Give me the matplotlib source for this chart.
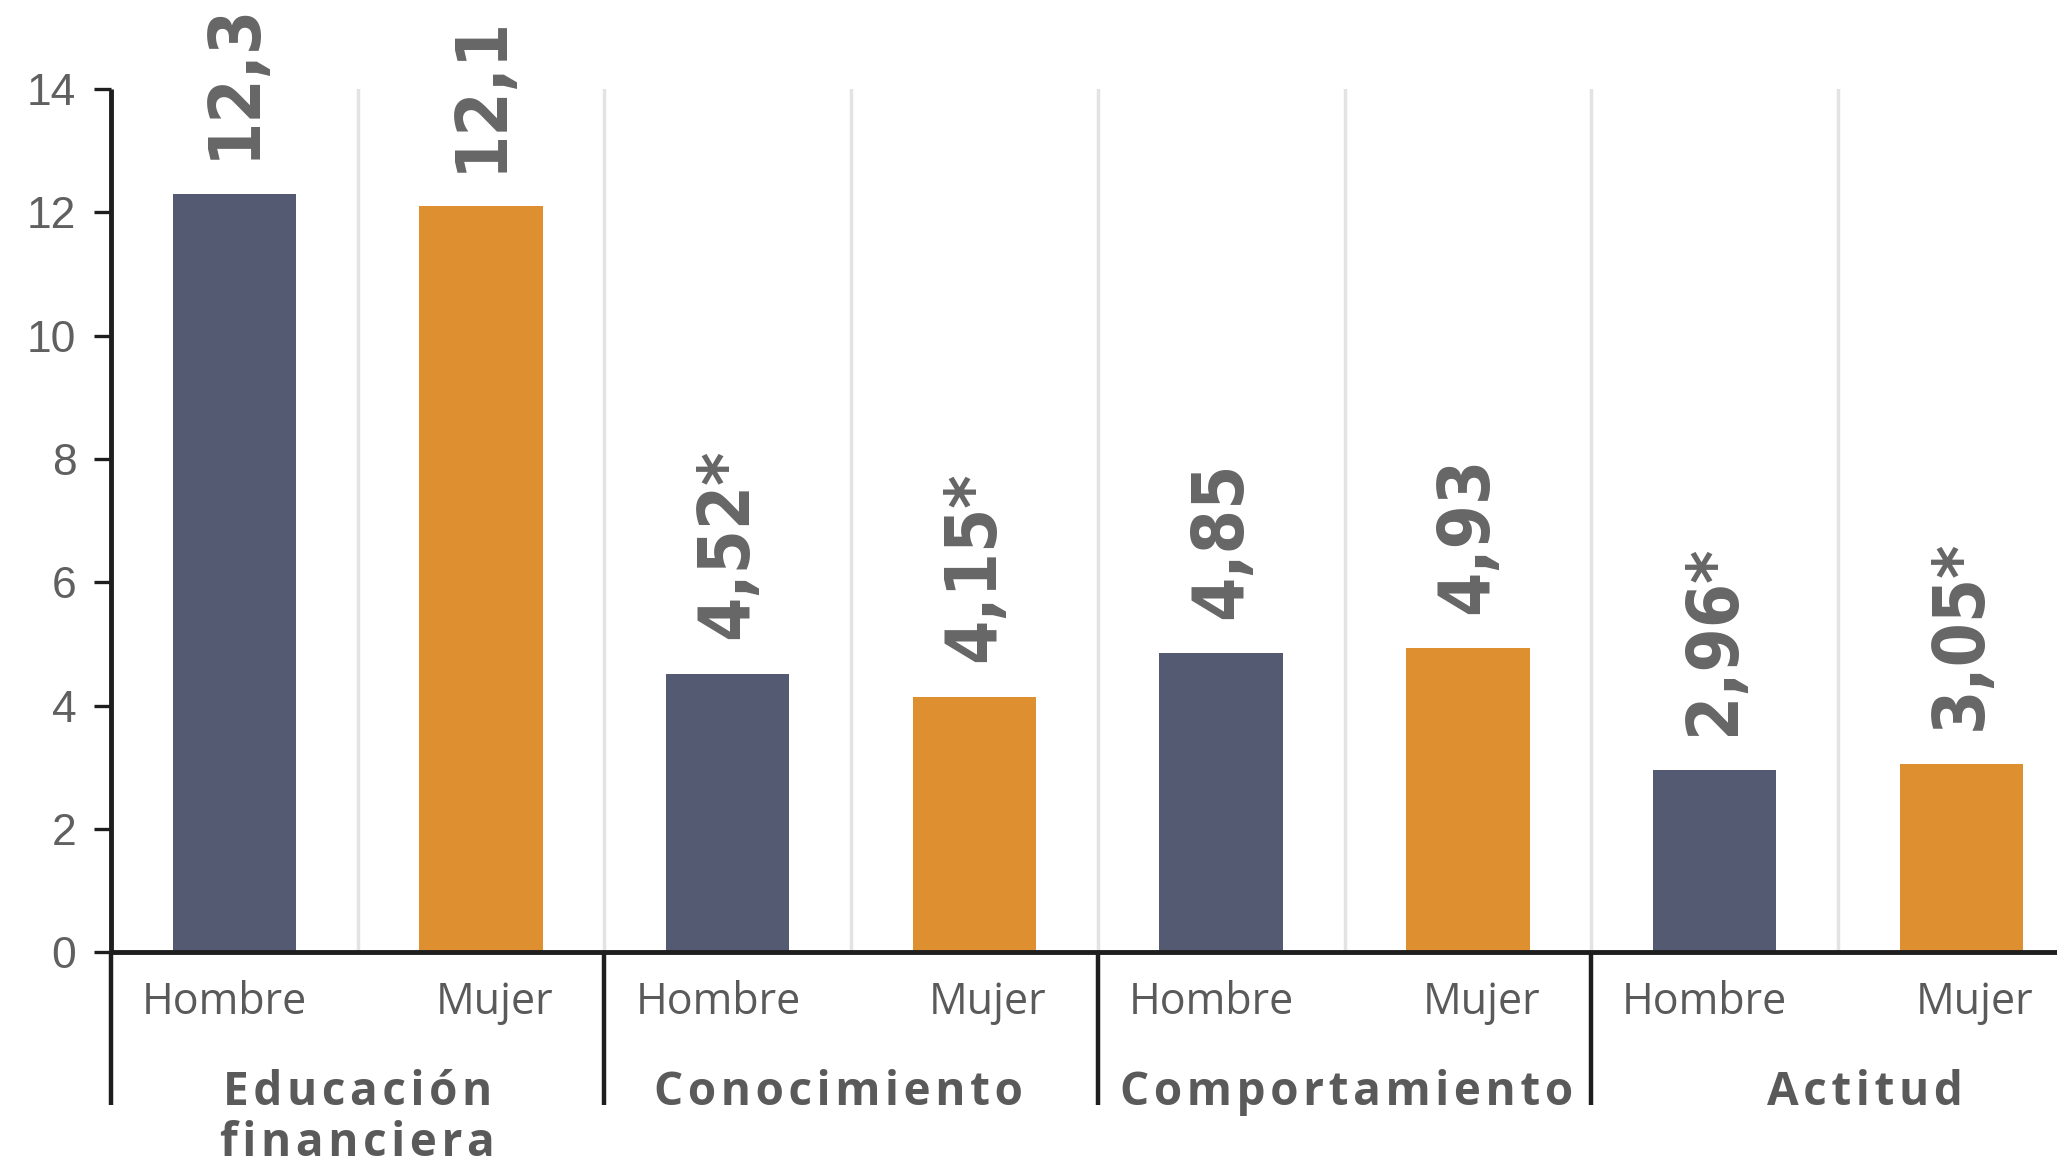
import matplotlib
matplotlib.use("Agg")
import matplotlib.pyplot as plt
import matplotlib.transforms as mtransforms
from matplotlib import font_manager

# ---------------- data ----------------
groups = ["Educación\nfinanciera", "Conocimiento", "Comportamiento", "Actitud"]
sexes = ["Hombre", "Mujer"]
hombre_vals = [12.3, 4.52, 4.85, 2.96]
mujer_vals = [12.1, 4.15, 4.93, 3.05]
hombre_labels = ["12,3", "4,52*", "4,85", "2,96*"]
mujer_labels = ["12,1", "4,15*", "4,93", "3,05*"]
y_ticks = [0, 2, 4, 6, 8, 10, 12, 14]

# ---------------- style ----------------
NAVY = "#545A72"
ORANGE = "#DE9030"
GRID = "#E3E3E3"
TXT = "#5A5A5A"
VAL = "#666666"
BLACK = "#1E1E1E"

def has_font(name):
    try:
        font_manager.findfont(font_manager.FontProperties(family=name), fallback_to_default=False)
        return True
    except Exception:
        return False

tick_family = "Liberation Sans Narrow" if has_font("Liberation Sans Narrow") else "Liberation Sans"

fig = plt.figure(figsize=(20.57, 11.58), dpi=100)
ax = fig.add_axes([0.054, 0.1775, 0.9594, 0.7455])

n = len(groups)
xs_h = [2 * i for i in range(n)]
xs_m = [2 * i + 1 for i in range(n)]

# light vertical gridlines at slot boundaries
for b in range(2 * n - 1):
    ax.axvline(b + 0.5, ymin=0, ymax=1, color=GRID, lw=2.5, zorder=0)

ax.bar(xs_h, hombre_vals, width=0.5, color=NAVY, zorder=2)
ax.bar(xs_m, mujer_vals, width=0.5, color=ORANGE, zorder=2)

# value labels
for x, v, lab in list(zip(xs_h, hombre_vals, hombre_labels)) + list(zip(xs_m, mujer_vals, mujer_labels)):
    ax.annotate(lab, xy=(x, v), xytext=(0, 25), textcoords="offset points",
                rotation=90, ha="center", va="bottom", color=VAL,
                fontsize=51, fontweight="bold", family="DejaVu Sans",
                fontstretch="condensed", annotation_clip=False)

ax.set_xlim(-0.5, 2 * n - 0.5)
ax.set_ylim(0, 14)
ax.set_yticks(y_ticks)
ax.set_yticklabels([str(t) for t in y_ticks], family=tick_family, fontsize=32, color="#606060")
ax.tick_params(axis="y", length=12, width=2.4, color=BLACK, pad=13, direction="out")
ax.set_xticks([])

for s in ["top", "right"]:
    ax.spines[s].set_visible(False)
for s in ["left", "bottom"]:
    ax.spines[s].set_linewidth(3.5)
    ax.spines[s].set_color(BLACK)
    ax.spines[s].set_capstyle("butt")

trans = mtransforms.blended_transform_factory(ax.transData, ax.transAxes)
sep_bottom = -0.1767
line_h = 0.0591

# black group separators below the axis
for b in [-0.5] + [2 * i + 1.5 for i in range(n - 1)]:
    ax.plot([b, b], [0, sep_bottom], transform=trans, color=BLACK, lw=3.2,
            clip_on=False, solid_capstyle="butt", zorder=3)

# sex labels
sex_offsets = [-0.04, 0.055]
for i in range(n):
    for j, sx in enumerate(sexes):
        ax.text(2 * i + j + sex_offsets[j], -0.0712, sx, transform=trans,
                ha="center", va="baseline", fontsize=31, color=TXT,
                family="Open Sans")

# group labels (bold, letter spaced)
group_offsets = [0.0, -0.05, 0.01, 0.11]
HS = "\u200a"
for i, g in enumerate(groups):
    for k, line in enumerate(g.split("\n")):
        ax.text(2 * i + 0.5 + group_offsets[i], sep_bottom - k * line_h,
                HS.join(list(line)), transform=trans,
                ha="center", va="baseline", fontsize=33, fontweight="bold",
                color=TXT, family=["Open Sans", "DejaVu Sans"])

fig.savefig("out.png", dpi=100)
